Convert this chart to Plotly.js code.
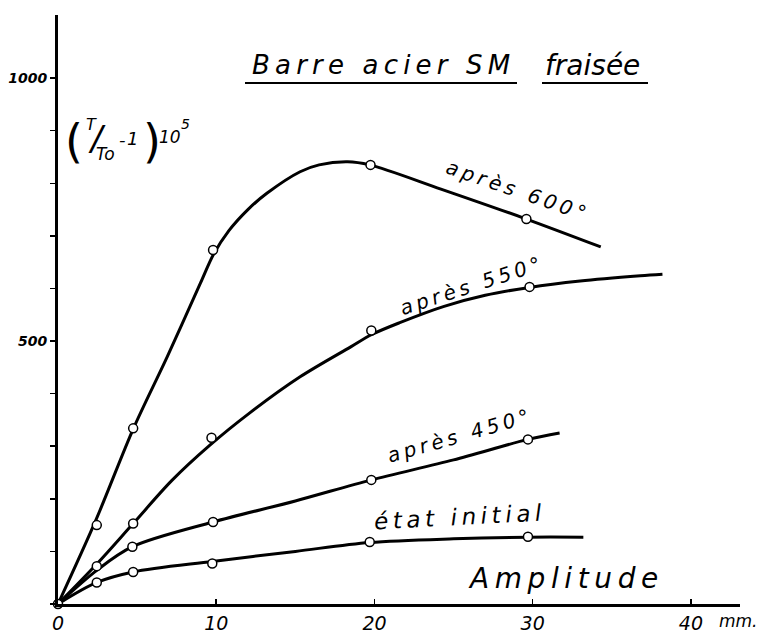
<!DOCTYPE html>
<html>
<head>
<meta charset="utf-8">
<script src="https://cdn.plot.ly/plotly-3.0.1.min.js"></script>
<style>html,body{margin:0;padding:0;background:#fff;}#chart{width:784px;height:637px;}</style>
</head>
<body>
<div id="chart"></div>
<script>
const origin_x = [0];
const origin_y = [0];
const pts600_x = [2.45, 4.75, 9.8, 19.75, 29.6];
const pts600_y = [150, 334, 673, 835, 732];
const pts550_x = [2.45, 4.75, 9.7, 19.8, 29.8];
const pts550_y = [72, 153, 316, 520, 603];
const pts450_x = [4.7, 9.8, 19.8, 29.7];
const pts450_y = [109, 156, 236, 313];
const ptsInit_x = [2.45, 4.75, 9.75, 19.7, 29.7];
const ptsInit_y = [41, 61, 77, 118, 128];

// ---- hand-drawn curves ----
const curve600_x = [0, 2.4, 4.77, 6.9, 9.0, 9.83, 10.8, 12, 13.2, 15.3, 16.5, 18.3, 19.7, 24.2, 29.6, 34.3];
const curve600_y = [0, 160, 334, 470, 610, 665, 710, 750, 781, 822, 835, 841, 835, 789, 732, 679];
const curve550_x = [0, 2.45, 4.75, 7.2, 9.6, 12.1, 15.3, 18.5, 19.8, 21.6, 24.4, 27, 29.8, 33, 36.8, 38.2];
const curve550_y = [0, 76, 153, 235, 302, 363, 432, 489, 512, 535, 566, 587, 602, 614, 624, 627];
const curve450_x = [0, 2.45, 4.7, 9.8, 15, 19.8, 25, 29.7, 31.7];
const curve450_y = [0, 64, 109, 156, 196, 236, 274, 313, 325];
const curveInit_x = [0, 2.45, 4.75, 9.75, 15, 19.7, 25, 29.7, 33.2];
const curveInit_y = [0, 41, 61, 81, 100, 117, 124, 127, 127];

// ---- labels ----
const curveLabels = ['après 600°', 'après 550°', 'après 450°', 'état initial'];
const xTickVals = [0, 10, 20, 30, 40];
const xTickText = ['0', '10', '20', '30', '40'];
const yTickVals = [0, 100, 200, 300, 400, 500, 600, 700, 800, 900, 1000];
const yTickText = ['', '', '', '', '', '500', '', '', '', '', '1000'];

const hand = 'DejaVu Sans';
const lineStyle = {color: '#000', width: 3, shape: 'spline', smoothing: 0.9};
const markerStyle = {symbol: 'circle', size: 9, color: '#fff', line: {color: '#000', width: 1.5}};

// plot area in pixels: x 58..740, y 15..604
const L = 58, R = 44, T = 15, B = 33, W = 784, H = 637;
const PW = W - L - R, PH = H - T - B;
const px = p => (p - L) / PW;
const py = p => (H - B - p) / PH;
// wide hand-lettering: thin space between letters
const spaced = s => Array.from(s).join('\u2009');

function curve(x, y) {
  return {x: x, y: y, type: 'scatter', mode: 'lines', line: lineStyle, hoverinfo: 'skip', cliponaxis: false};
}
function pts(x, y) {
  return {x: x, y: y, type: 'scatter', mode: 'markers', marker: markerStyle, cliponaxis: false};
}

const data = [
  curve(curve600_x, curve600_y),
  curve(curve550_x, curve550_y),
  curve(curve450_x, curve450_y),
  curve(curveInit_x, curveInit_y),
  pts(pts600_x, pts600_y),
  pts(pts550_x, pts550_y),
  pts(pts450_x, pts450_y),
  pts(ptsInit_x, ptsInit_y),
  pts(origin_x, origin_y)
];

function lab(text, x, y, angle, size, italic) {
  return {text: text, x: px(x), y: py(y), xref: 'paper', yref: 'paper', showarrow: false, textangle: angle,
    xanchor: 'center', yanchor: 'middle', borderpad: 0,
    font: {family: hand, size: size, color: '#000', style: italic === false ? 'normal' : 'italic'}};
}

const layout = {
  width: W, height: H,
  margin: {l: L, r: R, t: T, b: B},
  paper_bgcolor: '#fff', plot_bgcolor: '#fff',
  showlegend: false,
  xaxis: {
    range: [0, 43.1], showgrid: false, zeroline: false,
    showline: true, linecolor: '#000', linewidth: 3,
    ticks: 'inside', ticklen: 5, tickwidth: 1.5, tickcolor: '#000',
    tickvals: xTickVals, ticktext: xTickText,
    tickfont: {family: hand, size: 19, color: '#000', style: 'italic'}
  },
  yaxis: {
    range: [0, 1120], showgrid: false, zeroline: false,
    showline: true, linecolor: '#000', linewidth: 3,
    ticks: 'outside', ticklen: 5, tickwidth: 1.5, tickcolor: '#000',
    tickvals: yTickVals, ticktext: yTickText,
    tickfont: {family: hand, size: 14, color: '#000', style: 'italic', weight: 'bold'}
  },
  annotations: [
    lab(spaced(curveLabels[0]), 516, 190, 19, 20),
    lab(spaced(curveLabels[1]), 470, 286, -18, 20),
    lab(spaced(curveLabels[2]), 458, 436, -16, 20),
    lab(spaced(curveLabels[3]), 458, 517, -3, 23),
    lab(spaced('Amplitude'), 563, 578, 0, 28),
    lab('mm.', 738, 621, 0, 17),
    lab(spaced('Barre acier SM'), 381, 65, 0, 26),
    lab('fraisée', 592, 65, 0, 28),
    // y-axis quantity (T/To - 1) 10^5
    lab('(', 74, 141, 0, 46, false),
    lab('T', 91, 125, 0, 16),
    lab('/', 97, 138, 0, 34),
    lab('To', 105, 154, 0, 17),
    lab('-', 122, 139, 0, 18),
    lab('1', 132, 138, 0, 18),
    lab(')', 152, 141, 0, 46, false),
    lab('10', 170, 137, 0, 17),
    lab('5', 185, 124, 0, 14)
  ],
  shapes: [
    {type: 'line', xref: 'paper', yref: 'paper', x0: px(245), x1: px(517), y0: py(83), y1: py(83), line: {color: '#000', width: 2}},
    {type: 'line', xref: 'paper', yref: 'paper', x0: px(542), x1: px(648), y0: py(83), y1: py(83), line: {color: '#000', width: 2}}
  ]
};

Plotly.newPlot('chart', data, layout, {displayModeBar: false, staticPlot: true});
</script>
</body>
</html>
